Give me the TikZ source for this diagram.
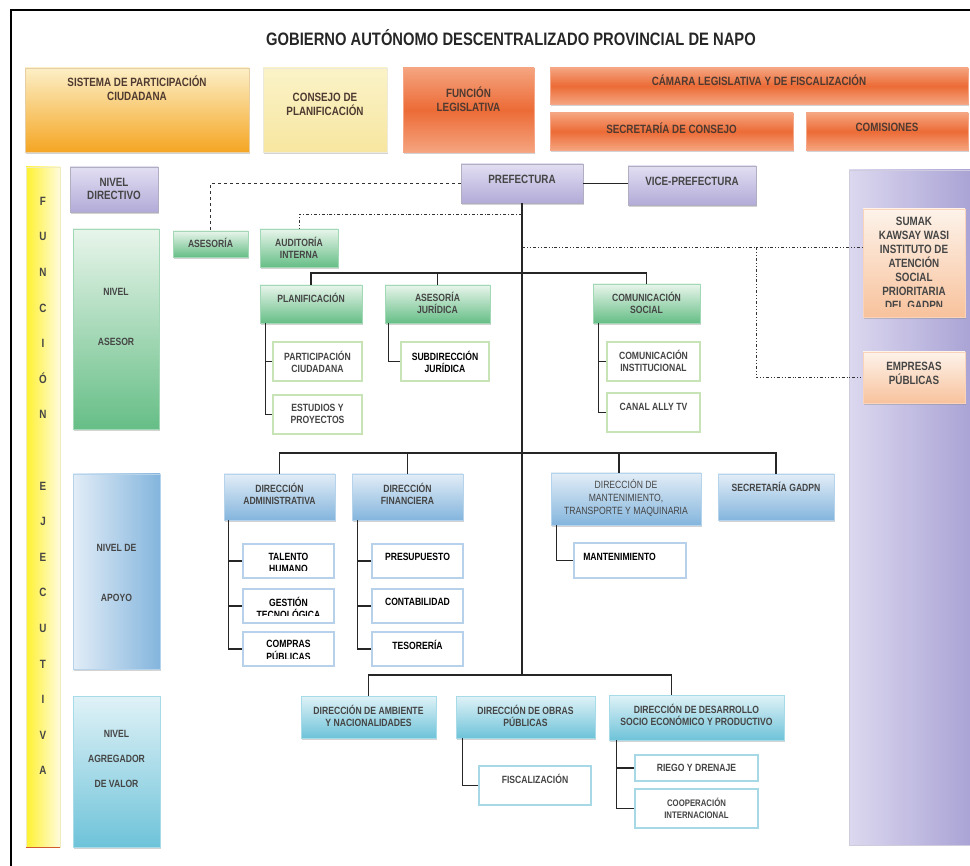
\documentclass[tikz,border=0pt]{standalone}
\usepackage{fontspec}
\setmainfont{Liberation Sans}[FakeStretch=0.82]
\usetikzlibrary{shadows}

\definecolor{gristexto}{HTML}{454545}
\definecolor{cafetexto}{HTML}{4E3A30}
\definecolor{ambarA}{HTML}{FCEFC6}
\definecolor{ambarB}{HTML}{F5A623}
\definecolor{cremaA}{HTML}{FBF3C8}
\definecolor{cremaB}{HTML}{F7E6A0}
\definecolor{naranjaA}{HTML}{F5A47F}
\definecolor{naranjaB}{HTML}{EC6B36}
\definecolor{moradoA}{HTML}{E2DEF2}
\definecolor{moradoB}{HTML}{B2ABD8}
\definecolor{verdeA}{HTML}{E8F5EB}
\definecolor{verdeB}{HTML}{66BE86}
\definecolor{azulA}{HTML}{E2EDF7}
\definecolor{azulB}{HTML}{84B5DD}
\definecolor{celesteA}{HTML}{E0F2F7}
\definecolor{celesteB}{HTML}{6EC3D9}
\definecolor{duraznoA}{HTML}{FDF3EA}
\definecolor{duraznoB}{HTML}{F8C29C}
\definecolor{amarilloA}{HTML}{FFF130}
\definecolor{amarilloB}{HTML}{FFFBDD}
\definecolor{panelA}{HTML}{DCD8EF}
\definecolor{panelB}{HTML}{A9A3D5}
\definecolor{bordeverde}{HTML}{C8E3B5}
\definecolor{bordeazul}{HTML}{B7D1EA}
\definecolor{bordeceleste}{HTML}{A6D8E6}

\tikzset{
  sombra/.style={inner sep=0pt, drop shadow={shadow xshift=1.2pt, shadow yshift=-1.8pt, opacity=0.35}},
  ambar/.style={sombra, draw=ambarB!80!black!40, top color=ambarA, bottom color=ambarB},
  crema/.style={sombra, draw=cremaB!80!black!30, top color=cremaA, bottom color=cremaB},
  naranja/.style={sombra, draw=naranjaB!60, top color=naranjaA, bottom color=naranjaA, middle color=naranjaB},
  morado/.style={sombra, draw=moradoB!70!black!60, top color=moradoA, bottom color=moradoB},
  verde/.style={sombra, draw=verdeB!60, top color=verdeA, bottom color=verdeB},
  azul/.style={sombra, draw=azulB!60, top color=azulA, bottom color=azulB},
  azulh/.style={sombra, draw=azulB!60, left color=azulA, right color=azulB},
  celeste/.style={sombra, draw=celesteB!60, top color=celesteA, bottom color=celesteB},
  durazno/.style={sombra, draw=duraznoB!70, top color=duraznoA, bottom color=duraznoB},
  amarilla/.style={inner sep=0pt, left color=amarilloA, right color=amarilloB, draw=amarilloA!80!black!30},
  panel/.style={inner sep=0pt, left color=panelA, right color=panelB, draw=panelB!80!black!40},
  subverde/.style={inner sep=0pt, fill=white, draw=bordeverde, line width=1.5pt},
  subazul/.style={inner sep=0pt, fill=white, draw=bordeazul, line width=1.5pt},
  subceleste/.style={inner sep=0pt, fill=white, draw=bordeceleste, line width=1.5pt},
  texto/.style={inner sep=0pt, align=center, text=gristexto, font=\bfseries\fontsize{10.5}{12.5}\selectfont},
  grande/.style={text=cafetexto, font=\bfseries\fontsize{12}{14}\selectfont},
  nivel/.style={font=\bfseries\fontsize{12}{13.5}\selectfont},
  linea/.style={draw=black!85, line width=1.1pt},
  punteada/.style={draw=black!80, line width=0.9pt}
}

% caja: [opciones del texto]{nombre}{estilo}{x1}{y1}{x2}{y2}{y del texto}{texto}
\newcommand{\caja}[9][]{%
  \node[#3, minimum width={(#6-#4)*1pt}, minimum height={(#7-#5)*1pt}] (#2) at ({(#4+#6)/2},{(#5+#7)/2}) {};
  \if\relax\detokenize{#9}\relax\else
    \node[texto,#1] (#2-t) at ({(#4+#6)/2},#8) {#9};
  \fi
}

\begin{document}
\begin{tikzpicture}[x=1pt, y=-1pt, semithick]
  \useasboundingbox (0,0) rectangle (970,866);
  \draw[line width=2.2pt] (11,866) -- (11,10) -- (970,10);

  % Cabecera

  \node[inner sep=0pt, text=black!85, font=\bfseries\fontsize{18}{22}\selectfont] (titulo) at (511,38) {GOBIERNO AUTÓNOMO DESCENTRALIZADO PROVINCIAL DE NAPO};

  \caja[grande]{sistema}{ambar}{25}{68}{249}{152}{88}{SISTEMA DE PARTICIPACIÓN\\CIUDADANA}
  \caja[grande]{consejo}{crema}{263}{68}{387}{152}{104}{CONSEJO DE\\PLANIFICACIÓN}
  \caja[grande]{funcion}{naranja}{403}{68}{534}{152}{99}{FUNCIÓN\\LEGISLATIVA}
  \caja[grande]{camara}{naranja}{550}{68}{968}{104}{80}{CÁMARA LEGISLATIVA Y DE FISCALIZACIÓN}
  \caja[grande]{secretaria}{naranja}{550}{113}{793}{150}{128}{SECRETARÍA DE CONSEJO}
  \caja[grande]{comisiones}{naranja}{806}{113}{968}{150}{127}{COMISIONES}

  % Funcion ejecutiva y niveles

  \caja[font=\bfseries\fontsize{12}{35.6}\selectfont]{franja}{amarilla}{26}{167}{60}{847}{486}{F\\U\\N\\C\\I\\Ó\\N\\[35.6pt]E\\J\\E\\C\\U\\T\\I\\V\\A}
  \draw[draw=brown!70!red, line width=1.5pt] (franja.south west) -- (franja.south east);

  \caja[nivel]{nivdir}{morado}{70}{167}{158}{212}{189}{NIVEL\\DIRECTIVO}
  \caja[font=\bfseries\fontsize{10.5}{50}\selectfont]{nivase}{verde}{73}{229}{159}{429}{317}{NIVEL\\ASESOR}
  \caja[font=\bfseries\fontsize{10.5}{50}\selectfont]{nivapo}{azulh}{73}{474}{160}{669}{573}{NIVEL DE\\APOYO}
  \caja[font=\bfseries\fontsize{10.5}{25}\selectfont]{nivagr}{celeste}{73}{696}{160}{847}{759}{NIVEL\\AGREGADOR\\DE VALOR}

  % Panel derecho

  \caja{panel}{panel}{849}{170}{972}{845}{0}{}
  \caja{sumak}{durazno}{863}{209}{965}{317}{0}{}
  \begin{scope}
    \clip (sumak.north west) rectangle ([yshift=11pt]sumak.south east);
    \node[texto, font=\bfseries\fontsize{12}{14}\selectfont] (sumak-t) at (914,263.5) {SUMAK\\KAWSAY WASI\\INSTITUTO DE\\ATENCIÓN\\SOCIAL\\PRIORITARIA\\DEL GADPN};
  \end{scope}
  \caja[font=\bfseries\fontsize{12}{14}\selectfont]{empresas}{durazno}{863}{352}{965}{403}{373}{EMPRESAS\\PÚBLICAS}

  % Nivel directivo

  \caja[nivel]{pref}{morado}{461}{164}{583}{203}{179}{PREFECTURA}
  \caja[nivel]{vice}{morado}{628}{166}{756}{205}{181}{VICE-PREFECTURA}

  % Nivel asesor

  \caja{asesoria}{verde}{173}{231}{248}{257}{243}{ASESORÍA}
  \caja{audit}{verde}{260}{229}{338}{267}{248}{AUDITORÍA\\INTERNA}
  \caja{plan}{verde}{260}{285}{362}{323}{298}{PLANIFICACIÓN}
  \caja{asjur}{verde}{385}{285}{490}{323}{303}{ASESORÍA\\JURÍDICA}
  \caja{comsoc}{verde}{593}{284}{700}{323}{303}{COMUNICACIÓN\\SOCIAL}
  \caja{partciu}{subverde}{273}{342}{362}{381}{362}{PARTICIPACIÓN\\CIUDADANA}
  \caja{estudios}{subverde}{273}{395}{362}{434}{414}{ESTUDIOS Y\\PROYECTOS}
  \caja[text=black]{subjur}{subverde}{401}{342}{489}{381}{362}{SUBDIRECCIÓN\\JURÍDICA}
  \caja{cominst}{subverde}{607}{342}{700}{381}{361}{COMUNICACIÓN\\INSTITUCIONAL}
  \caja{canal}{subverde}{607}{393}{700}{432}{407}{CANAL ALLY TV}

  % Nivel de apoyo

  \caja{diradm}{azul}{224}{474}{335}{520}{494}{DIRECCIÓN\\ADMINISTRATIVA}
  \caja{dirfin}{azul}{352}{474}{463}{520}{494}{DIRECCIÓN\\FINANCIERA}
  \caja[font=\fontsize{10.5}{13}\selectfont]{dirmant}{azul}{551}{473}{701}{525}{498}{DIRECCIÓN DE\\MANTENIMIENTO,\\TRANSPORTE Y MAQUINARIA}
  \caja{secgad}{azul}{718}{474}{834}{520}{487}{SECRETARÍA GADPN}

  \caja{talento}{subazul}{243}{544}{334}{578}{0}{}
  \caja{gestion}{subazul}{243}{589}{334}{623}{0}{}
  \caja{compras}{subazul}{243}{632}{334}{666}{0}{}
  \begin{scope}
    \clip (talento.north west) rectangle ([yshift=8pt]talento.south east);
    \node[texto, text=black] (talento-t) at (288.5,563) {TALENTO\\HUMANO};
  \end{scope}
  \begin{scope}
    \clip (gestion.north west) rectangle ([yshift=8pt]gestion.south east);
    \node[texto, text=black] (gestion-t) at (288.5,608) {GESTIÓN\\TECNOLÓGICA};
  \end{scope}
  \begin{scope}
    \clip (compras.north west) rectangle ([yshift=8pt]compras.south east);
    \node[texto, text=black] (compras-t) at (288.5,650.5) {COMPRAS\\PÚBLICAS};
  \end{scope}

  \caja[text=black]{presup}{subazul}{372}{544}{463}{578}{557}{PRESUPUESTO}
  \caja[text=black]{contab}{subazul}{372}{589}{463}{623}{602}{CONTABILIDAD}
  \caja[text=black]{tesor}{subazul}{372}{632}{463}{666}{645}{TESORERÍA}
  \caja{mant}{subazul}{574}{543}{686}{578}{0}{}
  \node[texto, text=black, anchor=west] (mant-t) at (583,557) {MANTENIMIENTO};

  % Nivel agregador de valor

  \caja{diramb}{celeste}{301}{696}{436}{738}{716}{DIRECCIÓN DE AMBIENTE\\Y NACIONALIDADES}
  \caja{dirobr}{celeste}{456}{696}{595}{738}{716}{DIRECCIÓN DE OBRAS\\PÚBLICAS}
  \caja{dirdes}{celeste}{609}{695}{784}{740}{715}{DIRECCIÓN DE DESARROLLO\\SOCIO ECONÓMICO Y PRODUCTIVO}
  \caja{fisc}{subceleste}{479}{766}{591}{805}{779}{FISCALIZACIÓN}
  \caja{riego}{subceleste}{635}{755}{758}{781}{768}{RIEGO Y DRENAJE}
  \caja[font=\bfseries\fontsize{9.5}{12}\selectfont]{coop}{subceleste}{635}{789}{758}{828}{808}{COOPERACIÓN\\INTERNACIONAL}

  % Conectores

  \coordinate (auditB) at (522,214);
  \coordinate (sumakB) at (522,247);
  \coordinate (empB) at (756,247);
  \coordinate (busA) at (522,273);
  \coordinate (busB) at (522,453);
  \coordinate (busC) at (522,675);

  \draw[linea] (pref.south) -- (busC);
  \draw[linea] (pref.east) -- (pref.east -| vice.west);
  \draw[punteada, dashed] (pref.west) -| (asesoria.north);
  \draw[punteada, dash dot] (auditB) -| (audit.north);
  \draw[punteada, dash dot dot] (sumakB) -- (sumakB -| sumak.west);
  \draw[punteada, dash dot dot] (empB) |- (empresas.west);

  \draw[linea] (plan.north) |- (busA) -| (comsoc.north);
  \draw[linea] (asjur.north) -- (asjur.north |- busA);
  \draw[linea] ([xshift=6pt]plan.south west) |- (partciu.west);
  \draw[linea] ([xshift=6pt]plan.south west) |- (estudios.west);
  \draw[linea] ([xshift=4pt]asjur.south west) |- (subjur.west);
  \draw[linea] ([xshift=6pt]comsoc.south west) |- (cominst.west);
  \draw[linea] ([xshift=6pt]comsoc.south west) |- (canal.west);

  \draw[linea] (diradm.north) |- (busB) -| (secgad.north);
  \draw[linea] (dirfin.north) -- (dirfin.north |- busB);
  \draw[linea] ([xshift=-7pt]dirmant.north) -- ([xshift=-7pt]dirmant.north |- busB);
  \draw[linea] ([xshift=5pt]diradm.south west) |- (talento.west);
  \draw[linea] ([xshift=5pt]diradm.south west) |- (gestion.west);
  \draw[linea] ([xshift=5pt]diradm.south west) |- (compras.west);
  \draw[linea] ([xshift=6pt]dirfin.south west) |- (presup.west);
  \draw[linea] ([xshift=6pt]dirfin.south west) |- (contab.west);
  \draw[linea] ([xshift=6pt]dirfin.south west) |- (tesor.west);
  \draw[linea] ([xshift=6pt]dirmant.south west) |- (mant.west);

  \draw[linea] (diramb.north) |- (busC) -| ([xshift=-25pt]dirdes.north);
  \draw[linea] ([xshift=7pt]dirobr.south west) |- (fisc.west);
  \draw[linea] ([xshift=8pt]dirdes.south west) |- (riego.west);
  \draw[linea] ([xshift=8pt]dirdes.south west) |- (coop.west);
\end{tikzpicture}
\end{document}
